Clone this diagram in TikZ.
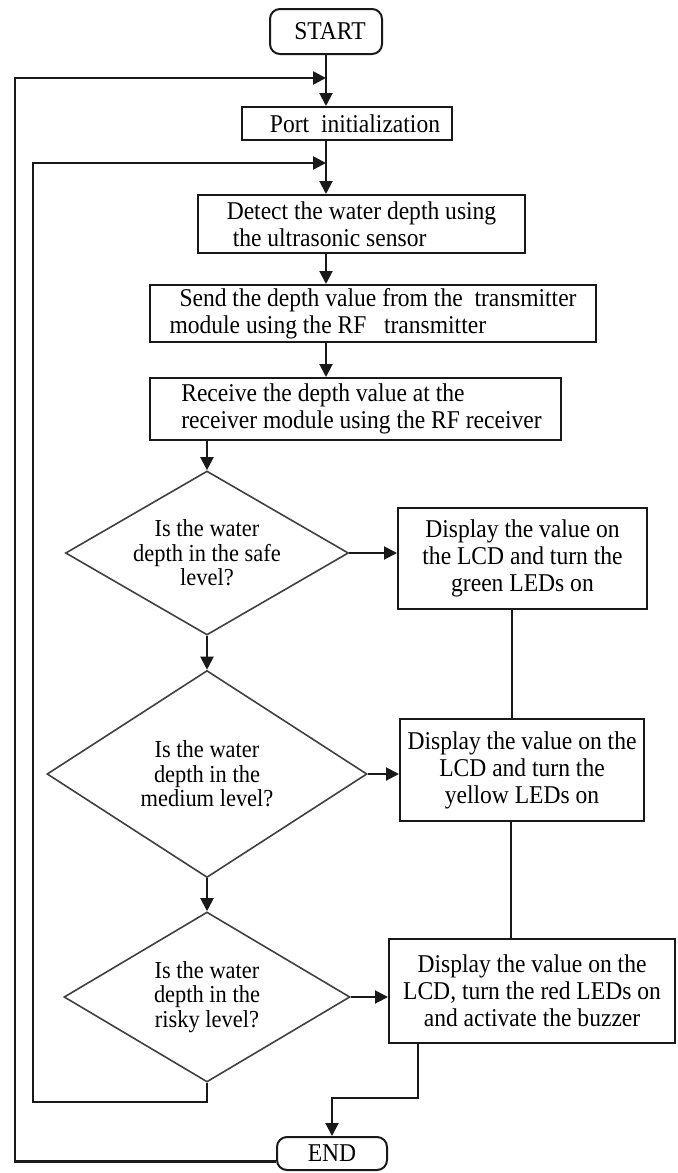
\documentclass[tikz,border=0pt]{standalone}
\usepackage{fontspec}
\setmainfont{Liberation Serif}[FakeStretch=0.92]
\usetikzlibrary{shapes.geometric, arrows.meta}
\newcommand{\lineColor}{black!90}
\newcommand{\diamondColor}{black!75}

\begin{document}
\begin{tikzpicture}[
            x=0.5pt, y=-0.5pt,
            every node/.append style={font=\fontsize{12.8pt}{13.5pt}\selectfont, inner sep=0pt},
            process/.style={draw=\lineColor, line width=1pt, align=center},
            terminal/.style={process, rounded corners=5pt},
            decision/.style={diamond, draw=\diamondColor, line width=0.8pt, align=center, font=\fontsize{12.2pt}{12.3pt}\selectfont},
            flow/.style={draw=\lineColor, line width=1pt, -{Triangle[length=6.5pt, width=6.5pt]}},
            backline/.style={flow, line width=1.3pt},
            joinline/.style={draw=\lineColor, line width=1pt}
        ]
        \useasboundingbox (0,0) rectangle (677,1173);

        \node[terminal, minimum width=56pt, minimum height=22.5pt] (start) at (326,31.5) {\hspace*{4pt}START};
        \node[process, minimum width=105pt, minimum height=16.5pt] (portinit) at (347,123.5) {\hspace*{8pt}Port\ \ initialization};
        \node[process, align=left, minimum width=163.5pt, minimum height=29pt] (detect) at (361.5,224) {Detect the water depth using\\\hspace*{3pt}the ultrasonic sensor};
        \node[process, align=left, minimum width=223pt, minimum height=28.5pt] (send) at (373,313.5) {\hspace*{5pt}Send the depth value from the\ \ transmitter\\module using the RF\ \ \ transmitter};
        \node[process, align=left, minimum width=205.5pt, minimum height=31pt] (receive) at (355.5,409) {\hspace*{6pt}Receive the depth value at the\\\hspace*{6pt}receiver module using the RF receiver};

        \node[decision, aspect=1.73, minimum width=141.5pt, minimum height=82pt] (safe) at (207,553) {Is the water\\depth in the safe\\level?};
        \node[decision, aspect=1.55, minimum width=160pt, minimum height=103.5pt] (medium) at (207,774) {Is the water\\depth in the\\medium level?};
        \node[decision, aspect=1.68, minimum width=143pt, minimum height=85pt] (risky) at (207,997) {Is the water\\depth in the\\risky level?};

        \node[process, minimum width=124.5pt, minimum height=50.5pt] (green) at (522.5,558.5) {Display the value on\\the LCD and turn the\\green LEDs on};
        \node[process, minimum width=122pt, minimum height=51pt] (yellow) at (522,770) {Display the value on the\\LCD and turn the\\yellow LEDs on};
        \node[process, minimum width=143pt, minimum height=52pt] (red) at (532,991) {Display the value on the\\LCD, turn the red LEDs on\\and activate\ the buzzer};

        \node[terminal, minimum width=55pt, minimum height=16.5pt] (end) at (332,1153.5) {END};

        \draw[flow] (start.south) -- (start.south |- portinit.north);
        \draw[flow] (start.south |- portinit.south) -- (start.south |- detect.north);
        \draw[flow] (start.south |- detect.south) -- (start.south |- send.north);
        \draw[flow] (start.south |- send.south) -- (start.south |- receive.north);
        \draw[flow] (safe.north |- receive.south) -- (safe.north);
        \draw[flow] (safe.east) -- (safe.east -| green.west);
        \draw[flow] (safe.south) -- (medium.north);
        \draw[flow] (medium.east) -- (medium.east -| yellow.west);
        \draw[flow] (medium.south) -- (risky.north);
        \draw[flow] (risky.east) -- (risky.east -| red.west);
        \draw[joinline] ([xshift=-5.5pt]green.south) -- ([xshift=-5.5pt]green.south |- yellow.north);
        \draw[joinline] ([xshift=-5.5pt]yellow.south) -- ([xshift=-5.5pt]yellow.south |- red.north);
        \draw[flow] ([xshift=-57pt]red.south) -- ++(0,54) -| (end.north);

        \draw[backline] ([yshift=-4pt]end.west) -| (15,78) -- (start.south |- 0,78);
        \draw[backline] (risky.south) -- ++(0,19) -| (33,163) -- (start.south |- 0,163);

    \end{tikzpicture}
\end{document}
